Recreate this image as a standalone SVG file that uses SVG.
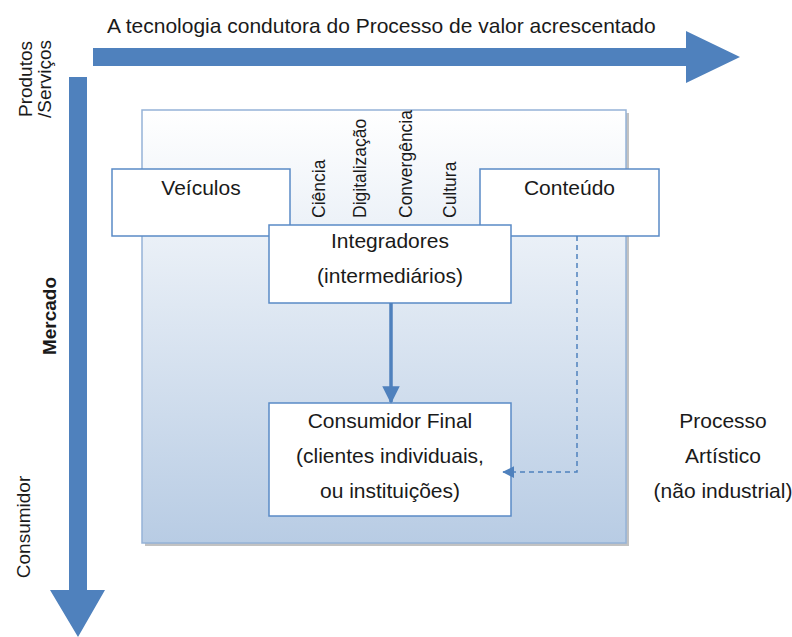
<svg xmlns="http://www.w3.org/2000/svg" width="792" height="637" viewBox="0 0 792 637">
<defs>
<linearGradient id="bg" x1="0" y1="0" x2="0" y2="1">
<stop offset="0" stop-color="#ffffff"/>
<stop offset="1" stop-color="#b8cce4"/>
</linearGradient>
<marker id="solidHead" markerWidth="5" markerHeight="5" refX="4.5" refY="2.5" orient="auto" markerUnits="strokeWidth">
<path d="M0,0 L5,2.5 L0,5 Z" fill="#4f81bd"/>
</marker>
<marker id="dashHead" markerWidth="8" markerHeight="8" refX="7.5" refY="4" orient="auto" markerUnits="strokeWidth">
<path d="M0,0 L8,4 L0,8 Z" fill="#4f81bd"/>
</marker>
<style>
.t{font-family:"Liberation Sans",Arial,sans-serif;fill:#1a1a1a}
.h{font-size:21px;text-anchor:middle}
.v{font-size:17.5px}
.side{font-size:19px;text-anchor:middle}
.box{fill:#ffffff;stroke:#5a8ac6;stroke-width:1.5}
.big{fill:#4f81bd}
</style>
</defs>
<rect width="792" height="637" fill="#ffffff"/>

<g id="axis-top">
<polygon class="big" points="93,48 686,48 686,31 740,57 686,83 686,66 93,66"/>
<text class="t" x="107" y="33" font-size="21">A tecnologia condutora do Processo de valor acrescentado</text>
</g>
<g id="axis-left">
<polygon class="big" points="69,77 87,77 87,590 105,590 78,637 50,590 69,590"/>
<text class="t side" transform="translate(32,79) rotate(-90)">Produtos</text>
<text class="t side" transform="translate(51,79) rotate(-90)">/Serviços</text>
<text class="t side" font-weight="bold" font-size="20" transform="translate(56,316) rotate(-90)">Mercado</text>
<text class="t side" font-size="19.5" transform="translate(30,527) rotate(-90)">Consumidor</text>
</g>

<g id="processo-bg">
<rect x="145" y="113" width="484" height="433" fill="#9a9a9a" opacity="0.6"/>
<rect x="142" y="110" width="484" height="433" fill="url(#bg)" stroke="#95b3d7" stroke-width="1.5"/>
</g>

<g id="drivers">
<text class="t v" transform="translate(325,218) rotate(-90)">Ciência</text>
<text class="t v" transform="translate(366,218) rotate(-90)">Digitalização</text>
<text class="t v" transform="translate(412,218) rotate(-90)">Convergência</text>
<text class="t v" transform="translate(456,218) rotate(-90)">Cultura</text>
</g>

<g id="veiculos">
<rect class="box" x="112" y="169" width="178" height="67"/>
<text class="t h" x="201" y="195">Veículos</text>
</g>
<g id="conteudo">
<rect class="box" x="480" y="169" width="179" height="67"/>
<text class="t h" x="569.5" y="195">Conteúdo</text>
</g>
<g id="integradores">
<rect class="box" x="269" y="225" width="242" height="78"/>
<text class="t h" x="390" y="248">Integradores</text>
<text class="t h" x="390" y="283">(intermediários)</text>
</g>
<g id="consumidor-final">
<rect class="box" x="269" y="403" width="242" height="113"/>
<text class="t h" x="390" y="428">Consumidor Final</text>
<text class="t h" x="390" y="463">(clientes individuais,</text>
<text class="t h" x="390" y="498">ou instituições)</text>
</g>

<g id="connectors">
<line x1="391" y1="303" x2="391" y2="402" stroke="#4f81bd" stroke-width="3.5" marker-end="url(#solidHead)"/>
<polyline points="577,236 577,472 503,472" fill="none" stroke="#4f81bd" stroke-width="1.5" stroke-dasharray="5,4" marker-end="url(#dashHead)"/>
</g>

<g id="processo-artistico">
<text class="t h" x="723" y="428">Processo</text>
<text class="t h" x="723" y="463">Artístico</text>
<text class="t h" x="723" y="498">(não industrial)</text>
</g>
</svg>
